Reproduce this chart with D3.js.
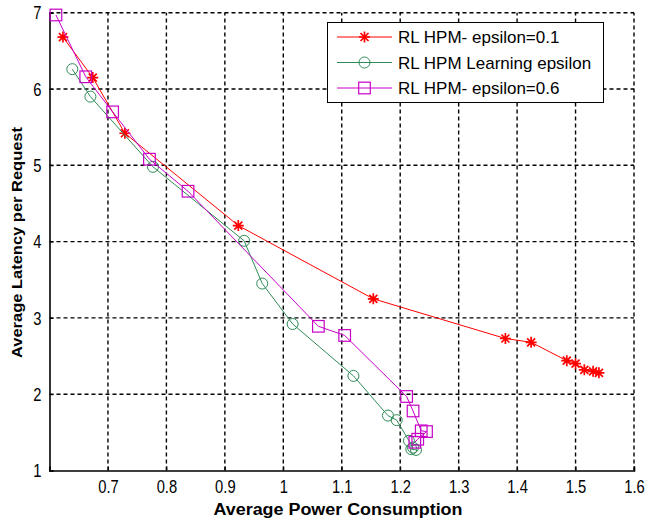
<!DOCTYPE html>
<html><head><meta charset="utf-8">
<script src="https://cdn.jsdelivr.net/npm/d3@7"></script>
<style>body{margin:0;background:#fff}svg{display:block}text{font-family:"Liberation Sans",Arial,sans-serif}</style>
</head><body>
<script>
const seriesNames = ["RL HPM- epsilon=0.1","RL HPM Learning epsilon","RL HPM- epsilon=0.6"];
const redX = [0.623,0.674,0.729,0.923,1.154,1.380,1.424,1.485,1.500,1.515,1.530,1.540];
const redY = [6.68,6.15,5.42,4.21,3.25,2.73,2.68,2.44,2.40,2.32,2.30,2.28];
const greenX = [0.639,0.670,0.777,0.933,0.964,1.016,1.120,1.179,1.194,1.215,1.222,1.219,1.227];
const greenY = [6.26,5.90,4.98,4.01,3.45,2.92,2.24,1.72,1.66,1.39,1.30,1.28,1.27];
const magX = [0.611,0.662,0.708,0.771,0.837,1.060,1.105,1.211,1.222,1.236,1.245,1.230,1.225];
const magY = [6.97,6.16,5.70,5.08,4.66,2.89,2.77,1.97,1.78,1.52,1.51,1.41,1.37];
const xTicks = [0.7,0.8,0.9,1,1.1,1.2,1.3,1.4,1.5,1.6];
const yTicks = [1,2,3,4,5,6,7];

const W=645,H=520;
const svg=d3.select("body").append("svg").attr("width",W).attr("height",H);
const x=d3.scaleLinear().domain([0.6,1.6]).range([49.5,634]);
const y=d3.scaleLinear().domain([1,7]).range([470.5,12.7]);

// grid
const g=svg.append("g");
g.selectAll(".vg").data(xTicks).join("line").attr("x1",d=>x(d)).attr("x2",d=>x(d)).attr("y1",y(1)).attr("y2",y(7))
 .attr("stroke","#000").attr("stroke-width",1.4).attr("stroke-dasharray","4,3");
g.selectAll(".hg").data(yTicks.filter(d=>d>1)).join("line").attr("x1",x(0.6)).attr("x2",x(1.6)).attr("y1",d=>y(d)).attr("y2",d=>y(d))
 .attr("stroke","#000").attr("stroke-width",1.4).attr("stroke-dasharray","4,3");

// axes
const sx=0.82;
const xa=svg.append("g").attr("transform",`translate(0,${y(1)})`).call(d3.axisBottom(x).tickValues(xTicks).tickSize(-4).tickFormat(d3.format("")));
const ya=svg.append("g").attr("transform",`translate(${x(0.6)},0)`).call(d3.axisLeft(y).tickValues(yTicks).tickSize(-4).tickFormat(d3.format("d")));
[xa,ya].forEach(a=>{a.select(".domain").attr("stroke","#000").attr("stroke-width",1.6);
 a.selectAll("text").attr("font-size",18).attr("fill","#000");
 a.selectAll(".tick line").attr("stroke","#000");});
xa.selectAll(".tick text").attr("y",22.5).attr("dy",0).attr("x",0).attr("transform",`scale(${sx},1)`);
ya.selectAll(".tick text").attr("x",-8/sx).attr("dy","0.34em").attr("transform",`scale(${sx},1)`);

svg.append("text").attr("x",338).attr("y",514.5).attr("text-anchor","middle").attr("font-size",16).attr("font-weight","bold")
  .attr("textLength",249).attr("lengthAdjust","spacingAndGlyphs").text("Average Power Consumption");
svg.append("text").attr("transform","translate(22,242.5) rotate(-90)").attr("text-anchor","middle").attr("font-size",15.5).attr("font-weight","bold")
  .attr("textLength",231).attr("lengthAdjust","spacingAndGlyphs").text("Average Latency per Request");

const line=d3.line().x(d=>x(d[0])).y(d=>y(d[1]));
const colors=["#ff0000","#2e8b57","#c800c8"];
const data=[d3.zip(redX,redY),d3.zip(greenX,greenY),d3.zip(magX,magY)];
const plot=svg.append("g");
function marker(sel,i,cx,cy){
  if(i===0){
    const r=5.5;
    sel.append("path").attr("d",`M${cx-r},${cy}H${cx+r}M${cx},${cy-r}V${cy+r}M${cx-4},${cy-4}L${cx+4},${cy+4}M${cx-4},${cy+4}L${cx+4},${cy-4}`)
      .attr("stroke",colors[0]).attr("stroke-width",1.7).attr("fill","none");
  } else if(i===1){
    sel.append("circle").attr("cx",cx).attr("cy",cy).attr("r",5.5).attr("stroke",colors[1]).attr("stroke-width",1).attr("fill","none");
  } else {
    sel.append("rect").attr("x",cx-5.8).attr("y",cy-5.8).attr("width",11.6).attr("height",11.6).attr("stroke",colors[2]).attr("stroke-width",1.2).attr("fill","none");
  }
}
data.forEach((pts,i)=>{
  plot.append("path").attr("d",line(pts)).attr("fill","none").attr("stroke",colors[i]).attr("stroke-width",1);
  const mg=plot.append("g");
  pts.forEach(p=>marker(mg,i,x(p[0]),y(p[1])));
});

// legend
const lg=svg.append("g");
lg.append("rect").attr("x",327.5).attr("y",22.5).attr("width",276).attr("height",80).attr("fill","#fff").attr("stroke","#000").attr("stroke-width",1);
seriesNames.forEach((n,i)=>{
  const yy=37+i*25.5;
  lg.append("line").attr("x1",337).attr("x2",392).attr("y1",yy).attr("y2",yy).attr("stroke",colors[i]).attr("stroke-width",1);
  marker(lg,i,364.5,yy);
  lg.append("text").attr("x",398).attr("y",yy+6).attr("font-size",17).attr("fill","#000").text(n);
});
</script>
</body></html>
